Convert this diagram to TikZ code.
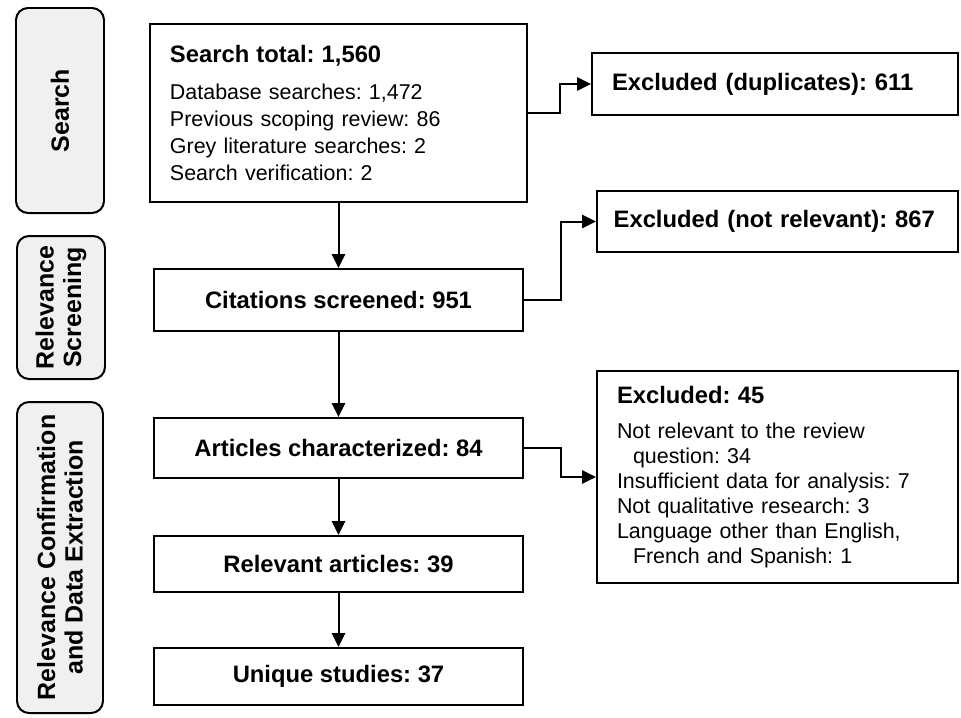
\documentclass[tikz,border=0pt]{standalone}
\usepackage{fontspec}
\setmainfont{Liberation Sans}
\usetikzlibrary{arrows.meta}
\definecolor{phasegray}{HTML}{F0F0F0}
\newcommand{\headfont}{\fontsize{20.3}{23}\selectfont\bfseries}
\newcommand{\bodyfont}{\fontsize{18.3}{23}\selectfont}
\frenchspacing

\tikzset{
  phase/.style={draw,line width=1.7pt,rounded corners=0.36cm,fill=phasegray,
    rotate=90,align=center,inner sep=0pt,font=\fontsize{21.3}{23.5}\selectfont\bfseries},
  stage/.style={draw,line width=1.7pt,minimum width=11.07cm,minimum height=1.8cm,
    inner sep=0pt,align=center,font=\headfont},
  listbox/.style={draw,line width=1.7pt,inner xsep=0.6cm,inner ysep=0pt,
    align=left,font=\bodyfont},
  flow/.style={line width=1.7pt,-{Triangle[length=0.42cm,width=0.4cm]}}
}

\begin{document}
\begin{tikzpicture}[x=0.03cm,y=-0.03cm]
\useasboundingbox (0,0) rectangle (961,717);

% phases on the left
\node[phase,minimum width=6.15cm,minimum height=2.64cm] (psearch) at (60,110.5) {Search};
\node[phase,minimum width=4.29cm,minimum height=2.64cm] (pscreen) at (61,307.5) {Relevance\\Screening};
\node[phase,minimum width=9.33cm,minimum height=2.58cm] (pextract) at (60,557.5) {Relevance Confirmation\\and Data Extraction};

% main column
\node[listbox,text width=10.11cm,minimum height=5.34cm] (search) at (338.5,113)
  {{\headfont Search total: 1,560}\\[0.3cm]
   Database searches: 1,472\\
   Previous scoping review: 86\\
   Grey literature searches: 2\\
   Search verification: 2};
\node[stage,minimum height=1.86cm] (screened) at (338.5,300) {Citations screened: 951};
\node[stage] (characterized) at (338.5,448) {Articles characterized: 84};
\node[stage,minimum height=1.68cm] (relevant) at (338.5,564) {Relevant articles: 39};
\node[stage,minimum height=1.71cm] (unique) at (338.5,676.5) {Unique studies: 37};

% exclusions
\node[listbox,font=\headfont,text width=9.78cm,minimum height=1.86cm] (dup) at (775,84)
  {Excluded (duplicates): 611};
\node[listbox,font=\headfont,inner xsep=0.5cm,text width=9.83cm,minimum height=1.83cm] (notrel) at (777.5,221.5)
  {Excluded (not relevant): 867};
\node[listbox,font=\fontsize{18.3}{21.3}\selectfont,text width=9.63cm,minimum height=6.36cm] (excl) at (777.5,477)
  {{\headfont Excluded: 45}\\[0.3cm]
   Not relevant to the review\\
   \hspace*{0.48cm}question: 34\\
   Insufficient data for analysis: 7\\
   Not qualitative research: 3\\
   Language other than English,\\
   \hspace*{0.48cm}French and Spanish: 1};

\draw[flow] (search) -- (screened);
\draw[flow] (screened) -- (characterized);
\draw[flow] (characterized) -- (relevant);
\draw[flow] (relevant) -- (unique);

\draw[flow] (search.east) -- ++(32,0) |- (dup.west);
\draw[flow] (screened.east) -- ++(37,0) |- (notrel.west);
\draw[flow] (characterized.east) -- ++(37,0) |- (excl.west);
\end{tikzpicture}
\end{document}
